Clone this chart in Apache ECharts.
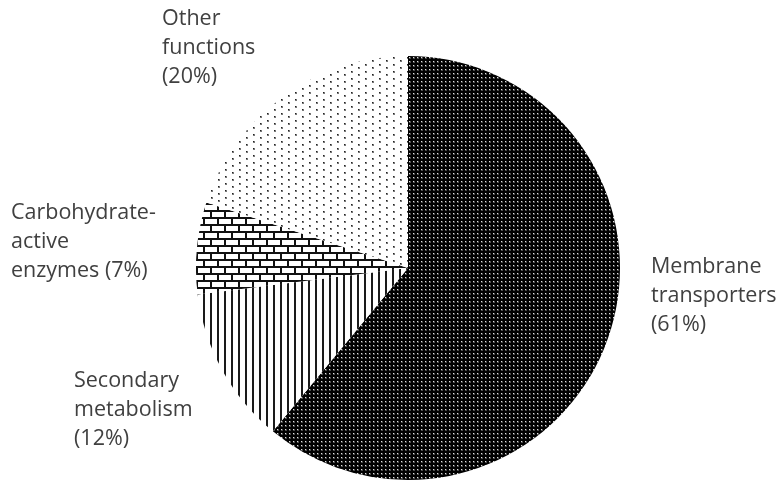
<!DOCTYPE html>
<html>
<head>
<meta charset="utf-8">
<script src="https://cdn.jsdelivr.net/npm/echarts@6/dist/echarts.min.js"></script>
<style>
  html, body { margin: 0; padding: 0; background: #fff; }
  #pie_chart { width: 781px; height: 480px; }
</style>
</head>
<body>
<div id="pie_chart"></div>
<script>
const slice_names = ["Membrane transporters", "Secondary metabolism", "Carbohydrate-active enzymes", "Other functions"]
const slice_labels = ["Membrane\ntransporters\n(61%)", "Secondary\nmetabolism\n(12%)", "Carbohydrate-\nactive\nenzymes (7%)", "Other\nfunctions\n(20%)"]
const slice_values = [61, 12, 7, 20]

// where each label block starts (top-left), in px
const label_pos = [[651, 252], [74, 366], [11, 198], [162, 4]]

function make_tile(w, h, draw) {
    let c = document.createElement('canvas')
    c.width = w
    c.height = h
    let ctx = c.getContext('2d')
    ctx.fillStyle = '#fff'
    ctx.fillRect(0, 0, w, h)
    draw(ctx)
    return {image: c, repeat: 'repeat'}
}

// dense dark dot screen
const pat_dark = make_tile(4, 4, function (ctx) {
    ctx.fillStyle = '#000'
    ctx.fillRect(0, 0, 4, 4)
    ctx.fillStyle = '#4a4a4a'
    ctx.fillRect(1, 1, 2, 2)
    ctx.fillStyle = '#e0e0e0'
    ctx.fillRect(1, 1, 1, 1)
})
// vertical stripes
const pat_stripes = make_tile(7, 4, function (ctx) {
    ctx.fillStyle = '#1a1a1a'
    ctx.fillRect(0, 0, 2, 4)
})
// bricks
const pat_bricks = make_tile(14, 14, function (ctx) {
    ctx.fillStyle = '#111'
    ctx.fillRect(0, 0, 14, 2)
    ctx.fillRect(0, 7, 14, 2)
    ctx.fillRect(0, 0, 2, 7)
    ctx.fillRect(7, 7, 2, 7)
})
// sparse staggered dots
const pat_dots = make_tile(14, 7, function (ctx) {
    ctx.fillStyle = '#777'
    ctx.fillRect(1, 1, 2, 2)
    ctx.fillRect(8, 4, 2, 2)
    ctx.fillStyle = '#222'
    ctx.fillRect(1, 1, 1, 1)
    ctx.fillRect(8, 4, 1, 1)
})
const patterns = [pat_dark, pat_stripes, pat_bricks, pat_dots]

let pie_chart = echarts.init(document.getElementById("pie_chart"))

let pie_option = {
    backgroundColor: '#fff',
    animation: false,
    series: [
        {
            type: 'pie',
            center: [408, 268],
            radius: 212,
            startAngle: 90,
            clockwise: true,
            label: {
                show: true,
                position: 'outside',
                color: '#404040',
                fontFamily: 'Open Sans',
                fontSize: 21.5,
                lineHeight: 29,
                align: 'left',
                overflow: 'none',
                formatter: function (params) {
                    return slice_labels[params.dataIndex]
                }
            },
            labelLine: {show: false},
            labelLayout: function (params) {
                const p = label_pos[params.dataIndex]
                return {x: p[0], y: p[1], align: 'left', verticalAlign: 'top'}
            },
            itemStyle: {borderWidth: 0},
            emphasis: {disabled: true},
            data: slice_values.map((val, index) => {
                return {
                    value: val,
                    name: slice_names[index],
                    itemStyle: {color: patterns[index]}
                }
            })
        }
    ]
};

pie_chart.setOption(pie_option);
</script>
</body>
</html>
